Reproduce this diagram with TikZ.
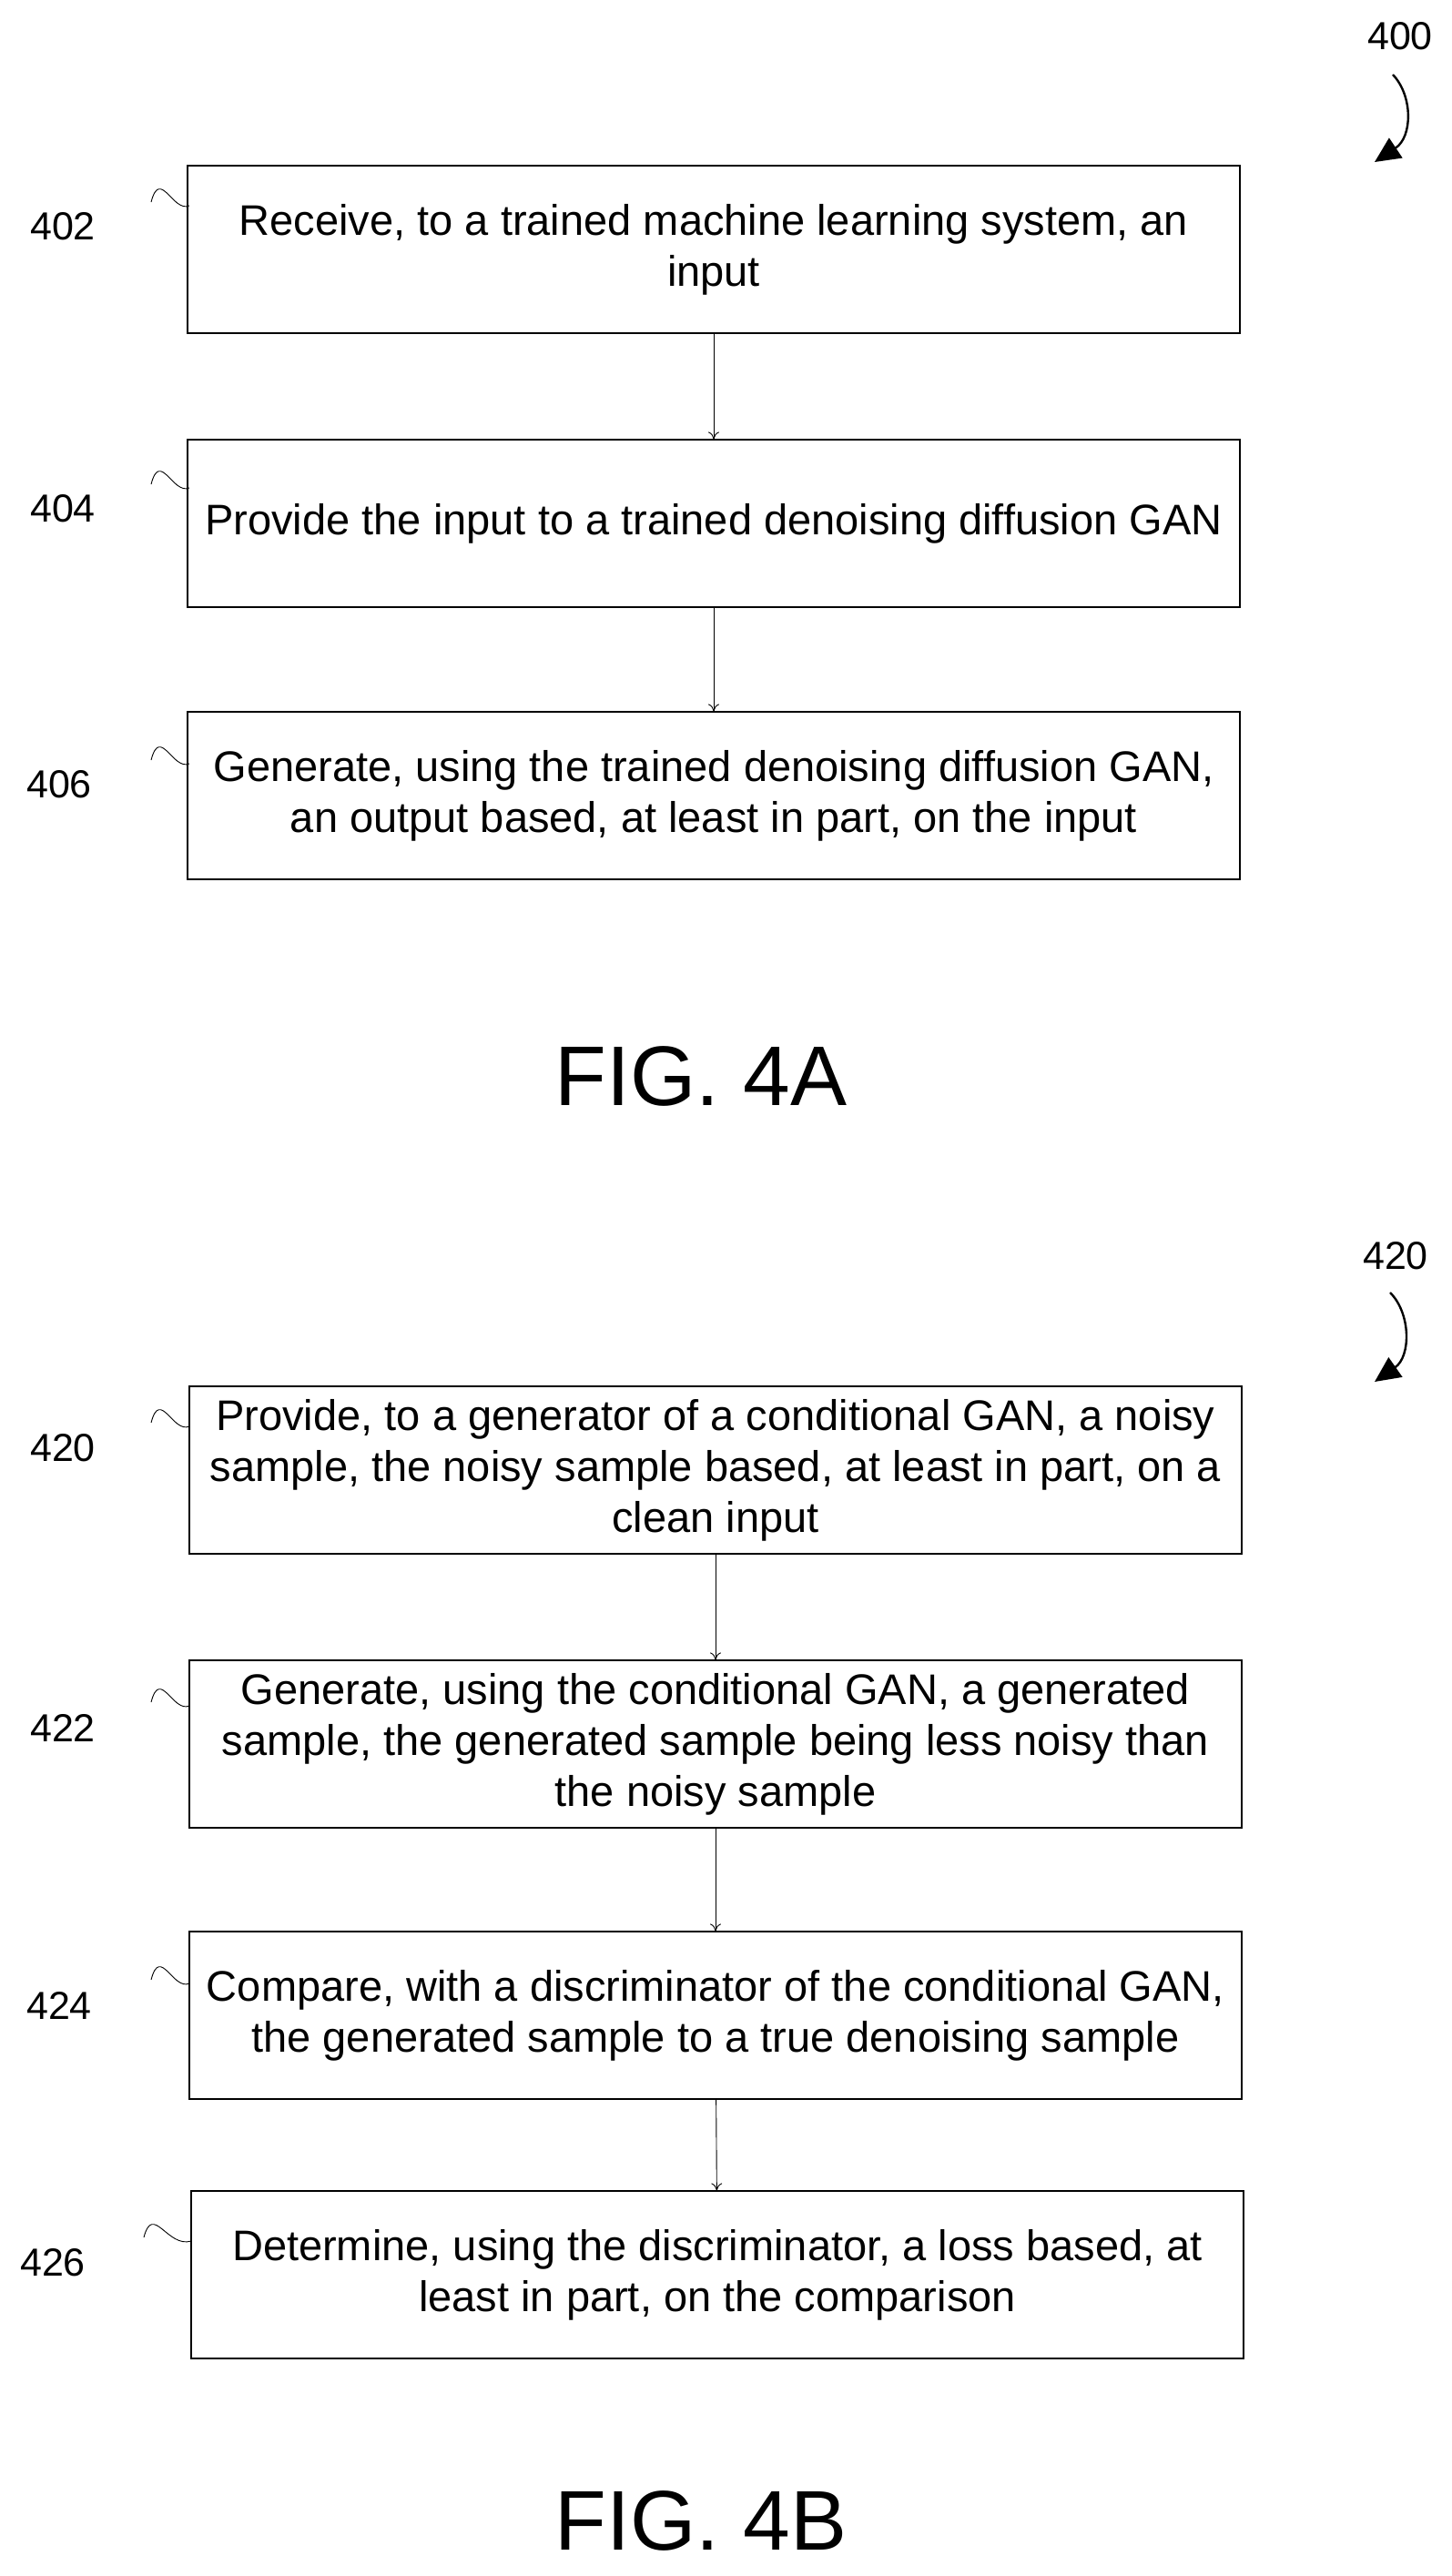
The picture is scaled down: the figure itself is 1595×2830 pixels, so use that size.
\documentclass[tikz,border=0pt]{standalone}
\usepackage{fontspec}
\setmainfont{Liberation Sans}
\usetikzlibrary{arrows.meta}
\begin{document}
\begin{tikzpicture}[x=1pt,y=-1pt,
 box/.style={draw,line width=1.2pt,minimum width=1156pt,minimum height=184pt,align=center,font=\fontsize{47}{56}\selectfont,inner sep=0pt},
 lab/.style={font=\fontsize{43}{50}\selectfont,inner sep=0pt},
 flow/.style={line width=0.9pt,-{To[length=8pt,width=12pt]}},
 sq/.style={line width=0.9pt},
 ref/.style={line width=2.4pt,-{Triangle[length=28pt,width=26pt]}},
 fig/.style={font=\fontsize{93}{100}\selectfont,inner sep=0pt}]
\useasboundingbox (0,0) rectangle (1595,2830);
\node[box] (b1) at (784,274) {Receive, to a trained machine learning system, an\\input};
\node[box] (b2) at (784,575) {Provide the input to a trained denoising diffusion GAN};
\node[box] (b3) at (784,874) {Generate, using the trained denoising diffusion GAN,\\an output based, at least in part, on the input};
\draw[flow] (b1) -- (b2);
\draw[flow] (b2) -- (b3);
\node[lab] (l402) at (69,249) {402};
\node[lab] (l404) at (69,559) {404};
\node[lab] (l406) at (65,862) {406};
\foreach \y in {222,532,835}{
  \draw[sq] (166,\y) .. controls (176,\y-38) and (190,\y+12) .. (208,\y+4);
}
\node[fig] (f4a) at (770,1182) {FIG. 4A};
\node[lab] (r400) at (1538,40) {400};
\coordinate (r400e) at (1510,178);
\draw[ref] (1530,82) .. controls (1552,105) and (1552,150) .. (r400e);

\node[lab] (r420) at (1533,1380) {420};
\coordinate (r420e) at (1510,1518);
\draw[ref] (1527,1420) .. controls (1550,1443) and (1550,1490) .. (r420e);
\node[box] (c1) at (786,1615) {Provide, to a generator of a conditional GAN, a noisy\\sample, the noisy sample based, at least in part, on a\\clean input};
\node[box] (c2) at (786,1916) {Generate, using the conditional GAN, a generated\\sample, the generated sample being less noisy than\\the noisy sample};
\node[box] (c3) at (786,2214) {Compare, with a discriminator of the conditional GAN,\\the generated sample to a true denoising sample};
\node[box] (c4) at (788,2499) {Determine, using the discriminator, a loss based, at\\least in part, on the comparison};
\draw[flow] (c1) -- (c2);
\draw[flow] (c2) -- (c3);
\draw[flow] (c3) -- (c4);
\node[lab] (l420) at (69,1591) {420};
\node[lab] (l422) at (69,1898) {422};
\node[lab] (l424) at (65,2203) {424};
\node[lab] (l426) at (58,2486) {426};
\foreach \y in {1563,1870,2175}{
  \draw[sq] (166,\y) .. controls (176,\y-38) and (190,\y+12) .. (208,\y+4);
}
\draw[sq] (158,2458) .. controls (168,2420) and (184,2470) .. (210,2462);
\node[fig] (f4b) at (770,2769) {FIG. 4B};
\end{tikzpicture}
\end{document}
